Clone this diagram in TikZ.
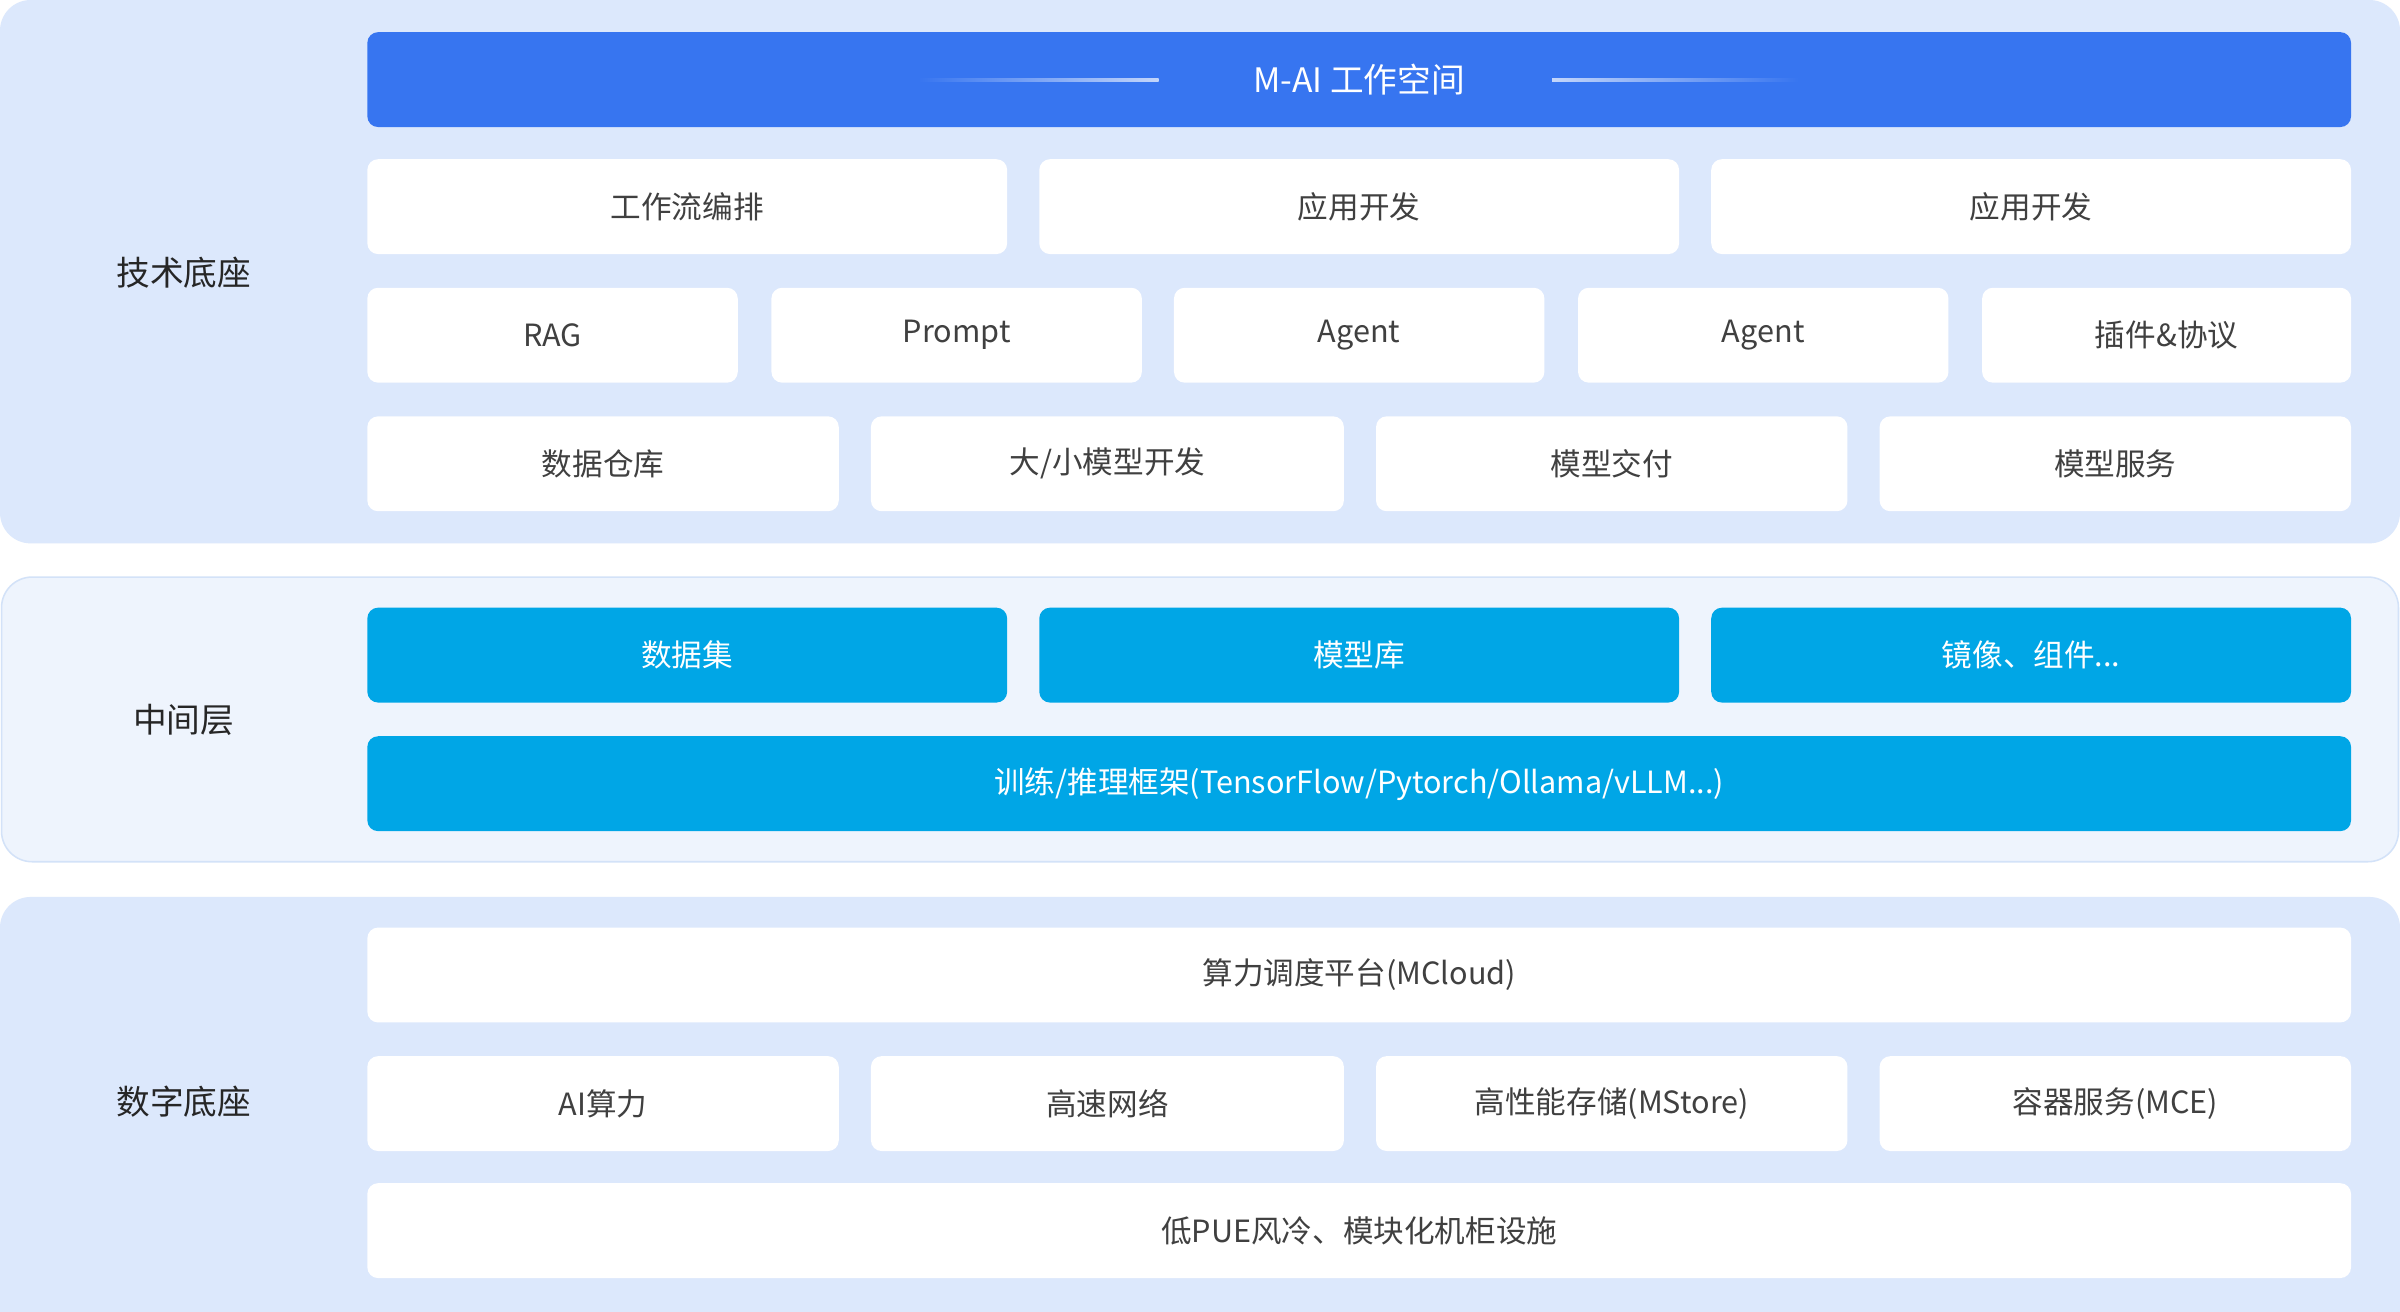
\documentclass[tikz,border=0pt]{standalone}
\usepackage{fontspec}
\setmainfont{Noto Sans CJK SC}
\begin{document}
\begin{tikzpicture}[x=1pt,y=-1pt,
  panel/.style={rounded corners=20pt},
  wbox/.style={fill=white,rounded corners=7pt,text=black!75,font=\fontsize{20}{24}\selectfont},
  cbox/.style={fill=cyanbox,rounded corners=7pt,text=white,font=\fontsize{20}{24}\selectfont},
  lbl/.style={text=black!85,font=\fontsize{22}{26}\selectfont}]
\definecolor{panelbg}{HTML}{DCE8FC}
\definecolor{midbg}{HTML}{EEF4FD}
\definecolor{midline}{HTML}{D3E2F8}
\definecolor{titleblue}{HTML}{3775F0}
\definecolor{cyanbox}{HTML}{00A6E6}
\useasboundingbox (0,0) rectangle (1568,857);
\fill[white] (0,0) rectangle (1568,857);
% panels
\fill[panelbg,panel] (0,0) rectangle (1568,355);
\fill[midbg,draw=midline,line width=1pt,panel] (1,377) rectangle (1567,563);
\fill[panelbg,panel] (0,586) rectangle (1568,880);
\node[lbl] (l1) at (120,178) {技术底座};
\node[lbl] (l2) at (120,470) {中间层};
\node[lbl] (l3) at (120,720) {数字底座};
% title
\fill[titleblue,rounded corners=7pt] (240,21) rectangle (1536,83);
\shade[left color=titleblue,right color=white!70!titleblue] (600,51) rectangle (757,53);
\shade[left color=white!70!titleblue,right color=titleblue] (1014,51) rectangle (1175,53);
\node[text=white,font=\fontsize{22}{26}\selectfont] (title) at (888,52) {M-AI 工作空间};
% helper macro-free boxes
\newcommand{\bx}[6]{\node[#1,minimum width=#4-#2,minimum height=#5-#3] at ({(#2+#4)/2},{(#3+#5)/2}) {#6};}
\bx{wbox}{240}{104}{658}{166}{工作流编排}
\bx{wbox}{679}{104}{1097}{166}{应用开发}
\bx{wbox}{1118}{104}{1536}{166}{应用开发}
\bx{wbox}{240}{188}{482}{250}{RAG}
\bx{wbox}{504}{188}{746}{250}{Prompt}
\bx{wbox}{767}{188}{1009}{250}{Agent}
\bx{wbox}{1031}{188}{1273}{250}{Agent}
\bx{wbox}{1295}{188}{1536}{250}{插件\&协议}
\bx{wbox}{240}{272}{548}{334}{数据仓库}
\bx{wbox}{569}{272}{878}{334}{大/小模型开发}
\bx{wbox}{899}{272}{1207}{334}{模型交付}
\bx{wbox}{1228}{272}{1536}{334}{模型服务}
\bx{cbox}{240}{397}{658}{459}{数据集}
\bx{cbox}{679}{397}{1097}{459}{模型库}
\bx{cbox}{1118}{397}{1536}{459}{镜像、组件...}
\bx{cbox}{240}{481}{1536}{543}{训练/推理框架(TensorFlow/Pytorch/Ollama/vLLM...)}
\bx{wbox}{240}{606}{1536}{668}{算力调度平台(MCloud)}
\bx{wbox}{240}{690}{548}{752}{AI算力}
\bx{wbox}{569}{690}{878}{752}{高速网络}
\bx{wbox}{899}{690}{1207}{752}{高性能存储(MStore)}
\bx{wbox}{1228}{690}{1536}{752}{容器服务(MCE)}
\bx{wbox}{240}{773}{1536}{835}{低PUE风冷、模块化机柜设施}
\end{tikzpicture}
\end{document}
